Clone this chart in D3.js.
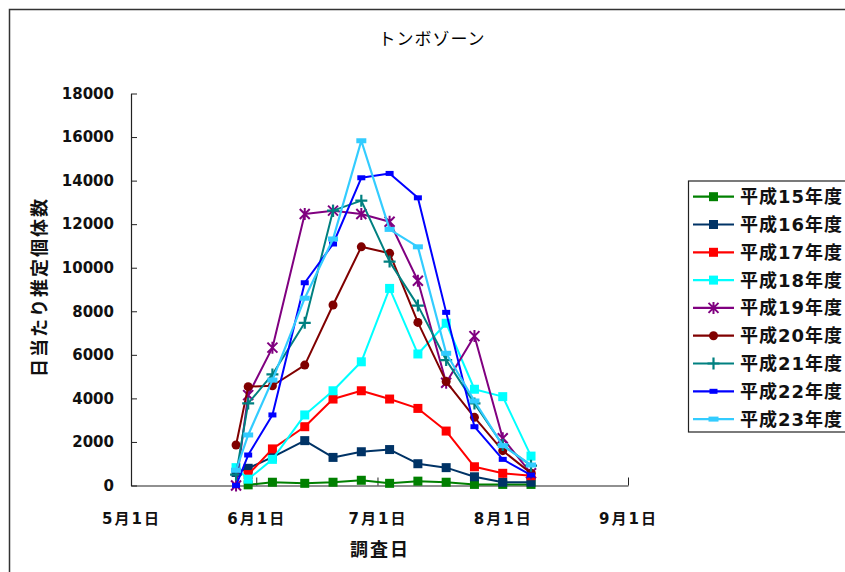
<!DOCTYPE html>
<html><head><meta charset="utf-8">
<script src="https://cdn.jsdelivr.net/npm/d3@7"></script>
<style>
html,body{margin:0;padding:0;background:#fff;}
svg{display:block;}
</style></head>
<body>
<svg id="chart" width="845" height="572"></svg>
<script>
// ---- data ----
const surveyDates = ["05-27","05-30","06-05","06-13","06-20","06-27","07-04","07-11","07-18","07-25","08-01","08-08"];
const seriesNames = ["平成15年度","平成16年度","平成17年度","平成18年度","平成19年度","平成20年度","平成21年度","平成22年度","平成23年度"];
const h15 = [null, 30, 150, 100, 150, 240, 100, 200, 150, 50, 50, 50];
const h16 = [600, 790, 1300, 2060, 1290, 1550, 1650, 1000, 820, 400, 150, 150];
const h17 = [null, 500, 1680, 2700, 3970, 4350, 3970, 3540, 2500, 860, 560, 450];
const h18 = [820, 290, 1200, 3240, 4350, 5680, 9050, 6040, 7450, 4420, 4080, 1350];
const h19 = [0, 4150, 6330, 12470, 12620, 12470, 12110, 9400, 4720, 6860, 2170, 560];
const h20 = [1860, 4540, 4580, 5530, 8290, 10960, 10660, 7490, 4770, 3130, 1600, 560];
const h21 = [500, 3770, 5100, 7470, 12620, 13080, 10280, 8260, 5760, 3770, 1860, 910];
const h22 = [0, 1400, 3240, 9310, 11090, 14130, 14330, 13210, 7950, 2700, 1200, 480];
const h23 = [700, 2320, 4840, 8600, 11320, 15830, 11760, 10960, 6070, 3880, 1830, 940];
const yTicks = [0,2000,4000,6000,8000,10000,12000,14000,16000,18000];
const xTickLabels = ["5月1日","6月1日","7月1日","8月1日","9月1日"];
const titleText = "トンボゾーン";
const yTitle = "日当たり推定個体数";
const xTitle = "調査日";

// ---- styles ----
const colors = ["#008000","#003366","#ff0000","#00ffff","#800080","#800000","#008080","#0000ff","#33ccff"];
const markers = ["square","square","square","square","star","circle","plus","dash","dash2"];
const allValues = [h15,h16,h17,h18,h19,h20,h21,h22,h23];

const YEAR = 2011;
const parse = s => new Date(YEAR, +s.slice(0,2)-1, +s.slice(3,5));
const dates = surveyDates.map(parse);

const svg = d3.select("#chart");
svg.append("rect").attr("width",845).attr("height",572).attr("fill","#fff");
// outer chart-area border
svg.append("path").attr("d","M9.5,600 L9.5,9.5 L900,9.5").attr("fill","none").attr("stroke","#333").attr("stroke-width",1.5);

const x = d3.scaleTime().domain([new Date(YEAR,4,1), new Date(YEAR,8,1)]).range([131,628]);
const y = d3.scaleLinear().domain([0,18000]).range([485.5,93.5]);

const numFont = "'DejaVu Sans','Noto Sans CJK JP',sans-serif";
const cjkFont = "'Noto Sans CJK JP','DejaVu Sans',sans-serif";

// title
svg.append("text").attr("x",432).attr("y",37).attr("text-anchor","middle").attr("dominant-baseline","central")
  .attr("font-family",cjkFont).attr("font-size",17).attr("letter-spacing",1).attr("fill","#000").text(titleText);

// y axis
const yAxis = d3.axisLeft(y).tickValues(yTicks).tickSizeInner(-6).tickSizeOuter(0).tickPadding(17).tickFormat(d=>String(d));
const gy = svg.append("g").attr("transform","translate(131,0)").call(yAxis);
gy.selectAll("text").attr("font-family",numFont).attr("font-weight","bold").attr("font-size",15).attr("fill","#111");
gy.select(".domain").attr("stroke","#222").attr("stroke-width",1.2);
gy.selectAll(".tick line").attr("stroke","#222");

// x axis
const monthTicks = d3.timeMonth.range(new Date(YEAR,4,1), new Date(YEAR,8,2));
const xAxis = d3.axisBottom(x).tickValues(monthTicks).tickSizeInner(-8).tickSizeOuter(0).tickPadding(28)
  .tickFormat((d,i)=>xTickLabels[i]);
const gx = svg.append("g").attr("transform","translate(0,485.5)").call(xAxis);
gx.selectAll("text").attr("font-family",numFont).attr("font-weight","bold").attr("font-size",15).attr("letter-spacing",2).attr("fill","#111");
gx.select(".domain").attr("stroke","#222").attr("stroke-width",1.2);
gx.selectAll(".tick line").attr("stroke","#222");

// axis titles
svg.append("text").attr("transform","translate(38,287) rotate(-90)").attr("text-anchor","middle").attr("dominant-baseline","central")
  .attr("font-family",cjkFont).attr("font-weight","bold").attr("font-size",18).attr("letter-spacing",2).attr("fill","#111").text(yTitle);
svg.append("text").attr("x",380).attr("y",548).attr("text-anchor","middle").attr("dominant-baseline","central")
  .attr("font-family",cjkFont).attr("font-weight","bold").attr("font-size",18).attr("letter-spacing",2).attr("fill","#111").text(xTitle);

// marker drawing
function drawMarker(g, type, color, cx, cy){
  if(type==="square"){
    g.append("rect").attr("x",cx-4.5).attr("y",cy-4.5).attr("width",9).attr("height",9).attr("fill",color);
  } else if(type==="circle"){
    g.append("circle").attr("cx",cx).attr("cy",cy).attr("r",4.5).attr("fill",color);
  } else if(type==="star"){
    const r=5;
    g.append("path").attr("d",`M${cx-r},${cy-r}L${cx+r},${cy+r}M${cx-r},${cy+r}L${cx+r},${cy-r}M${cx},${cy-r-1}L${cx},${cy+r+1}`)
      .attr("stroke",color).attr("stroke-width",2).attr("fill","none");
  } else if(type==="plus"){
    const r=6;
    g.append("path").attr("d",`M${cx-r},${cy}L${cx+r},${cy}M${cx},${cy-r}L${cx},${cy+r}`)
      .attr("stroke",color).attr("stroke-width",2.2).attr("fill","none");
  } else if(type==="dash"){
    g.append("rect").attr("x",cx-4).attr("y",cy-2.5).attr("width",8).attr("height",5).attr("fill",color);
  } else if(type==="dash2"){
    g.append("rect").attr("x",cx-5).attr("y",cy-2.5).attr("width",10).attr("height",5).attr("fill",color);
  }
}

const line = d3.line().defined(d=>d.v!=null).x(d=>x(d.date)).y(d=>y(d.v));
allValues.forEach((vals,i)=>{
  const pts = vals.map((v,j)=>({date:dates[j], v}));
  const g = svg.append("g");
  g.append("path").attr("d",line(pts)).attr("fill","none").attr("stroke",colors[i])
    .attr("stroke-width", i===8 ? 2.2 : 2).attr("stroke-linejoin","round");
  pts.filter(p=>p.v!=null).forEach(p=>drawMarker(g, markers[i], colors[i], x(p.date), y(p.v)));
});

// legend
const lg = svg.append("g");
lg.append("rect").attr("x",688.5).attr("y",181).attr("width",200).attr("height",251).attr("fill","#fff").attr("stroke","#222").attr("stroke-width",1.2);
seriesNames.forEach((name,i)=>{
  const cy = 196.7 + i*27.8;
  lg.append("line").attr("x1",693).attr("x2",734).attr("y1",cy).attr("y2",cy).attr("stroke",colors[i]).attr("stroke-width",2.2);
  drawMarker(lg, markers[i], colors[i], 713.5, cy);
  lg.append("text").attr("x",740).attr("y",cy).attr("dominant-baseline","central")
    .attr("font-family",numFont.replace("'DejaVu Sans',","'DejaVu Sans',")).attr("font-weight","bold").attr("font-size",18).attr("letter-spacing",1).attr("fill","#111").text(name);
});
</script>
</body></html>
